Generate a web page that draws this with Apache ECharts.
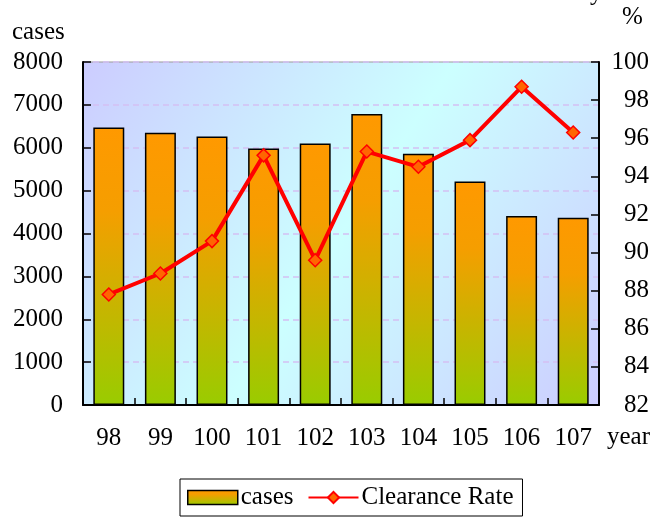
<!DOCTYPE html>
<html><head><meta charset="utf-8">
<script src="https://cdn.jsdelivr.net/npm/echarts@6/dist/echarts.min.js"></script>
<style>html,body{margin:0;padding:0;background:#fff}#c{width:663px;height:520px}</style>
</head><body><div id="c"></div>
<script>
const years = ['98', '99', '100', '101', '102', '103', '104', '105', '106', '107'];
const cases = [6470, 6350, 6260, 5980, 6100, 6790, 5860, 5210, 4410, 4370];
const clearanceRate = [87.8, 88.9, 90.6, 95.1, 89.6, 95.3, 94.5, 95.9, 98.7, 96.3];
const casesAxis = { min: 0, max: 8000, interval: 1000 };
const rateAxis = { min: 82, max: 100, interval: 2 };

const FONT = "'Liberation Serif', 'Times New Roman', serif";
const FS = 25;
const chart = echarts.init(document.getElementById('c'), null, { renderer: 'canvas' });
const barGrad = new echarts.graphic.LinearGradient(0, 0, 0, 1, [
  { offset: 0, color: '#ff9900' },
  { offset: 0.3, color: '#f59e00' },
  { offset: 1, color: '#99cc00' }
]);
const bgGrad = new echarts.graphic.LinearGradient(0, 0, 1, 1, [
  { offset: 0, color: '#ccccff' },
  { offset: 0.5, color: '#ccffff' },
  { offset: 1, color: '#ccccff' }
]);
chart.setOption({
  animation: false,
  textStyle: { fontFamily: FONT },
  grid: {
    left: 83, right: 64, top: 62, bottom: 115,
    show: true, backgroundColor: bgGrad, borderColor: '#999', borderWidth: 1
  },
  legend: {
    bottom: 4, left: 180,
    itemWidth: 50, itemHeight: 14, itemGap: 14,
    padding: [6, 9, 6, 7],
    borderColor: '#000', borderWidth: 1,
    textStyle: { fontFamily: FONT, fontSize: FS, color: '#000', padding: [0, 0, 0, -2] },
    data: [
      { name: 'cases', icon: 'rect', itemStyle: { color: barGrad, borderColor: '#000', borderWidth: 1.5 } },
      { name: 'Clearance Rate' }
    ]
  },
  graphic: [
    { type: 'text', left: 12, top: 20, style: { text: 'cases', font: FS + 'px ' + FONT, fill: '#000' } },
    { type: 'text', left: 622, top: 5, style: { text: '%', font: FS + 'px ' + FONT, fill: '#000' } },
    { type: 'text', left: 607, top: 425, style: { text: 'year', font: FS + 'px ' + FONT, fill: '#000' } },
    { type: 'text', left: 590, top: -19, style: { text: 'y', font: FS + 'px ' + FONT, fill: '#000' } }
  ],
  xAxis: {
    type: 'category', data: years, boundaryGap: true,
    axisLine: { show: true, lineStyle: { color: '#000', width: 2 } },
    axisTick: { show: true, inside: true, length: 7, lineStyle: { color: '#000', width: 1.5 } },
    axisLabel: { color: '#000', fontSize: FS, fontFamily: FONT, margin: 21 },
    splitLine: { show: false }
  },
  yAxis: [
    {
      type: 'value', min: casesAxis.min, max: casesAxis.max, interval: casesAxis.interval,
      axisLine: { show: true, lineStyle: { color: '#000', width: 2 } },
      axisTick: { show: true, inside: true, length: 8, lineStyle: { color: '#000', width: 1.5 } },
      axisLabel: { color: '#000', fontSize: FS, fontFamily: FONT, margin: 20, formatter: v => String(v) },
      splitLine: { show: true, lineStyle: { color: '#d4c0f4', type: [6, 4], width: 1.5 } }
    },
    {
      type: 'value', min: rateAxis.min, max: rateAxis.max, interval: rateAxis.interval,
      position: 'right',
      axisLine: { show: true, lineStyle: { color: '#000', width: 2 } },
      axisTick: { show: true, inside: true, length: 8, lineStyle: { color: '#000', width: 1.5 } },
      axisLabel: { color: '#000', fontSize: FS, fontFamily: FONT, margin: 50, align: 'right', formatter: v => String(v) },
      splitLine: { show: false }
    }
  ],
  series: [
    {
      name: 'cases', type: 'bar', data: cases, yAxisIndex: 0,
      barWidth: '60%',
      itemStyle: { color: barGrad, borderColor: '#000', borderWidth: 1.5 }
    },
    {
      name: 'Clearance Rate', type: 'line', data: clearanceRate, yAxisIndex: 1,
      symbol: 'diamond', symbolSize: 13,
      lineStyle: { color: '#ff0000', width: 4 },
      itemStyle: { color: '#ff6600', borderColor: '#ff0000', borderWidth: 1.5 },
      z: 5
    }
  ]
});
</script></body></html>
